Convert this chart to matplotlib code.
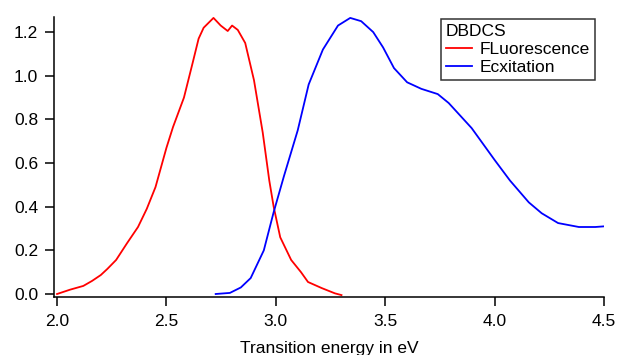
import matplotlib
matplotlib.use("Agg")
import matplotlib.pyplot as plt

plt.rcParams['font.family'] = ['Liberation Sans', 'DejaVu Sans']

# Fluorescence (red)
fluo_x = [2.00, 2.06, 2.12, 2.16, 2.20, 2.23, 2.27, 2.32, 2.37, 2.41, 2.45, 2.50,
          2.53, 2.58, 2.62, 2.647, 2.67, 2.715, 2.748, 2.78, 2.80, 2.826, 2.86,
          2.90, 2.94, 2.97, 2.99, 3.02, 3.07, 3.115, 3.147, 3.21, 3.27, 3.30]
fluo_y = [0.00, 0.02, 0.037, 0.06, 0.087, 0.115, 0.156, 0.233, 0.307, 0.39, 0.49, 0.67,
          0.765, 0.90, 1.06, 1.17, 1.22, 1.265, 1.23, 1.205, 1.23, 1.21, 1.15,
          0.98, 0.74, 0.52, 0.40, 0.26, 0.156, 0.10, 0.055, 0.027, 0.003, -0.005]

# Excitation (blue)
exc_x = [2.725, 2.79, 2.84, 2.885, 2.945, 2.99, 3.037, 3.10, 3.15, 3.215, 3.284,
         3.34, 3.39, 3.445, 3.49, 3.54, 3.60, 3.665, 3.74, 3.79, 3.895, 4.00,
         4.07, 4.156, 4.215, 4.29, 4.385, 4.46, 4.50]
exc_y = [0.0, 0.005, 0.03, 0.073, 0.20, 0.375, 0.54, 0.75, 0.96, 1.12, 1.23,
         1.265, 1.25, 1.20, 1.13, 1.035, 0.97, 0.94, 0.916, 0.875, 0.76, 0.614,
         0.52, 0.42, 0.37, 0.325, 0.307, 0.307, 0.31]

x_ticks = [2.0, 2.5, 3.0, 3.5, 4.0, 4.5]
y_ticks = [0.0, 0.2, 0.4, 0.6, 0.8, 1.0, 1.2]

fig = plt.figure(figsize=(6.17, 3.55), dpi=100)
ax = fig.add_axes([0.0875, 0.1634, 0.8915, 0.7886])

ax.plot(fluo_x, fluo_y, color='#ff0000', lw=1.3, label='FLuorescence')
ax.plot(exc_x, exc_y, color='#0000ff', lw=1.3, label='Ecxitation')

ax.set_xlim(1.986, 4.5)
ax.set_ylim(-0.0137, 1.269)
ax.set_xticks(x_ticks)
ax.set_yticks(y_ticks)
ax.set_xticklabels([f"{v:.1f}" for v in x_ticks])
ax.set_yticklabels([f"{v:.1f}" for v in y_ticks])

for side in ['top', 'right']:
    ax.spines[side].set_visible(False)
for side in ['left', 'bottom']:
    ax.spines[side].set_linewidth(1.1)
ax.tick_params(direction='out', length=6.5, width=1.1, labelsize=12.5, colors='black')
ax.tick_params(axis='x', pad=6)
ax.tick_params(axis='y', pad=5)

ax.set_xlabel('Transition energy in eV', fontsize=12.5, labelpad=8.5)

leg = ax.legend(title='DBDCS', loc='upper right', bbox_to_anchor=(0.9836, 0.993),
                fontsize=12.5, title_fontsize=12.5, frameon=True, fancybox=False,
                handlelength=1.5, handletextpad=0.45, borderpad=0.3,
                labelspacing=0.15, borderaxespad=0.0)
leg._legend_box.align = 'left'
leg.get_frame().set_edgecolor('black')
leg.get_frame().set_linewidth(1.1)

fig.savefig('out.png', dpi=100)
